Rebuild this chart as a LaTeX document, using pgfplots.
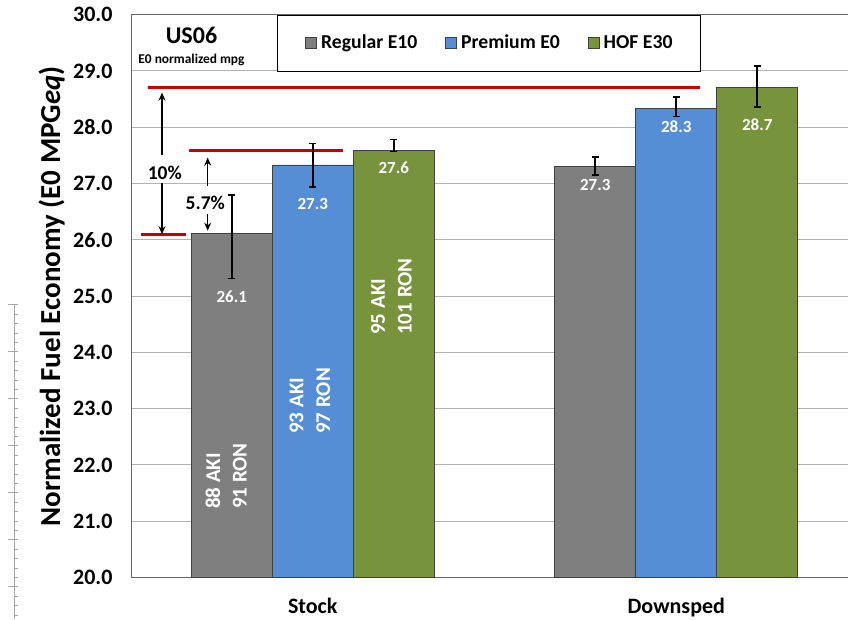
\documentclass[border=0pt]{standalone}
\usepackage{fontspec}
\setmainfont{Carlito}
\usepackage{pgfplots}
\pgfplotsset{compat=1.18}
\usetikzlibrary{arrows.meta}

\definecolor{regular}{HTML}{7F7F7F}
\definecolor{premium}{HTML}{558ED5}
\definecolor{hof}{HTML}{77933C}
\definecolor{redline}{HTML}{C80000}
\definecolor{gridgray}{HTML}{B3B3B3}
\definecolor{rulergray}{HTML}{A6A6A6}

\begin{document}
\begin{tikzpicture}[font=\bfseries]
\begin{axis}[
    name=main, at={(0,0)}, anchor=south west,
    scale only axis, width=717pt, height=562.8pt,
    xmin=-0.5, xmax=1.4725, ymin=20, ymax=30,
    axis x line*=box, axis y line*=left,
    axis line style={black!60, line width=0.8pt},
    xtick={0,1}, xticklabels={Stock,Downsped},
    ytick={20,21,...,30},
    major tick length=0pt,
    ymajorgrids, grid style={gridgray, line width=1pt},
    /pgf/number format/assume math mode=true,
    y tick label style={/pgf/number format/fixed, /pgf/number format/fixed zerofill,
        /pgf/number format/precision=1,
        font=\fontsize{22}{26}\selectfont\bfseries, xshift=-15pt},
    x tick label style={font=\fontsize{22}{26}\selectfont\bfseries, anchor=base, yshift=-35.8pt},
    ylabel={Normalized Fuel Economy (E0 MPG\textit{eq})},
    ylabel style={font=\fontsize{29}{34}\selectfont\bfseries,
        at={(axis description cs:-0.099,0.5)}, anchor=base},
    legend columns=3,
    legend style={at={(axis description cs:0.2036,1)}, anchor=north west,
        draw=black, line width=0.8pt, inner xsep=28pt, inner ysep=19pt,
        font=\fontsize{19.7}{23}\selectfont\bfseries,
        nodes={inner sep=0pt, text height=14pt, text depth=4pt},
        /tikz/every odd column/.append style={column sep=4pt},
        /tikz/every even column/.append style={column sep=28pt}},
    legend image code/.code={\draw[#1, line width=0.8pt] (0pt,-5.5pt) rectangle (11pt,5.5pt);},
    error bars/y dir=both, error bars/y explicit,
    error bars/error bar style={black, line width=1.8pt},
    error bars/error mark options={rotate=90, mark size=3.5pt, line width=1.5pt, black},
]
% red reference lines
\addplot[redline, line width=3pt, forget plot, sharp plot, no markers,
    error bars/y dir=none] coordinates {(-0.454,28.7) (1.0654,28.7)};
\addplot[redline, line width=3pt, forget plot, sharp plot, no markers,
    error bars/y dir=none] coordinates {(-0.3404,27.58) (0.0824,27.58)};
\addplot[redline, line width=3pt, forget plot, sharp plot, no markers,
    error bars/y dir=none] coordinates {(-0.4725,26.1) (-0.3487,26.1)};

% bars (each series placed at its own offset so that the error bars follow the bars)
\addplot[ybar, bar width=81pt, bar shift=0pt, fill=regular, draw=black!75, line width=0.8pt]
    coordinates {(-0.2228,26.12) += (0,0.68) -= (0,0.81) (0.7772,27.31) += (0,0.16) -= (0,0.16)};
\addlegendentry{Regular E10}
\addplot[ybar, bar width=81pt, bar shift=0pt, fill=premium, draw=black!75, line width=0.8pt]
    coordinates {(0,27.33) += (0,0.38) -= (0,0.39) (1,28.33) += (0,0.21) -= (0,0.14)};
\addlegendentry{Premium E0}
\addplot[ybar, bar width=81pt, bar shift=0pt, fill=hof, draw=black!75, line width=0.8pt]
    coordinates {(0.2228,27.58) += (0,0.20) -= (0,0.01) (1.2228,28.70) += (0,0.39) -= (0,0.34)};
\addlegendentry{HOF E30}

% value labels
\begin{scope}[every node/.style={font=\fontsize{17}{20}\selectfont\bfseries, text=white, anchor=base, inner sep=0pt}]
\node at (axis cs:-0.2228,24.892) {26.1};
\node at (axis cs:0,26.544) {27.3};
\node at (axis cs:0.2228,27.171) {27.6};
\node at (axis cs:0.7772,26.874) {27.3};
\node at (axis cs:1,27.911) {28.3};
\node at (axis cs:1.2228,27.934) {28.7};
\end{scope}

% octane labels inside the stock bars
\begin{scope}[every node/.style={font=\fontsize{21}{26.7}\selectfont\bfseries, text=white,
    rotate=90, anchor=west, align=left, inner sep=0pt}]
\node at (axis cs:-0.2381,21.215) {88 AKI\\91 RON};
\node at (axis cs:-0.0076,22.552) {93 AKI\\97 RON};
\node at (axis cs:0.2167,24.311) {95 AKI\\101 RON};
\end{scope}

% percentage arrows
\draw[-{Stealth[length=8pt,width=7pt]}, line width=1.6pt] (axis cs:-0.4147,27.508) -- (axis cs:-0.4147,28.615);
\draw[-{Stealth[length=8pt,width=7pt]}, line width=1.6pt] (axis cs:-0.4147,27.016) -- (axis cs:-0.4147,26.10);
\draw[-{Stealth[length=8pt,width=7pt]}, line width=1.6pt] (axis cs:-0.289,26.96) -- (axis cs:-0.289,27.46);
\draw[-{Stealth[length=8pt,width=7pt]}, line width=1.6pt] (axis cs:-0.289,26.455) -- (axis cs:-0.289,26.163);
\node[font=\fontsize{19.5}{23}\selectfont\bfseries, anchor=base, inner sep=0pt] at (axis cs:-0.407,27.064) {10\%};
\node[font=\fontsize{19.5}{23}\selectfont\bfseries, anchor=base, inner sep=0pt] at (axis cs:-0.2955,26.531) {5.7\%};

% title block
\node[font=\fontsize{24}{28}\selectfont\bfseries, anchor=base, inner sep=0pt] at (axis cs:-0.3336,29.48) {US06};
\node[font=\fontsize{13.4}{16}\selectfont\bfseries, anchor=base, inner sep=0pt] at (axis cs:-0.3336,29.137) {E0 normalized mpg};
\end{axis}

% ruler at the left edge
\begin{axis}[
    at={(-117pt,-41.5pt)}, anchor=south west,
    scale only axis, width=1pt, height=315pt,
    xmin=0, xmax=1, ymin=0, ymax=315,
    hide x axis, axis y line*=left,
    y axis line style={rulergray, line width=0.8pt},
    ytick={32.3,79.3,...,315}, minor ytick={4.1,13.5,...,315},
    yticklabels={},
    major tick length=10pt, minor tick length=4pt, tick align=inside,
    tick style={rulergray, line width=0.8pt},
    major tick style={xshift=-6pt},
]
\end{axis}

\pgfresetboundingbox
\path[use as bounding box] (-131pt,-41.5pt) rectangle (717pt,577.5pt);
\end{tikzpicture}
\end{document}
